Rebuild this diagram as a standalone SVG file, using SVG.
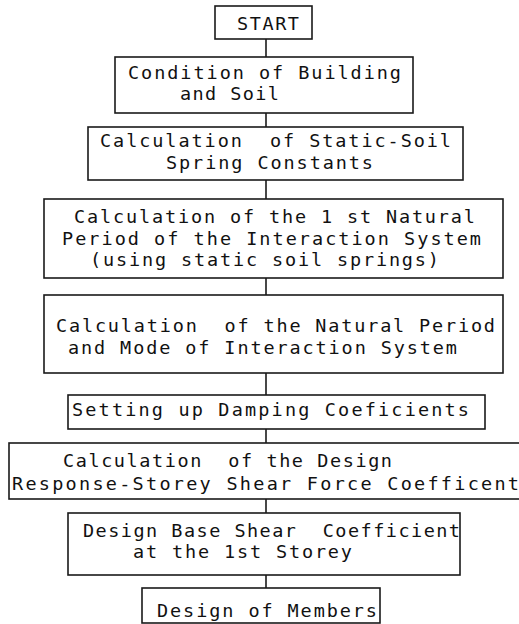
<svg xmlns="http://www.w3.org/2000/svg" width="519" height="624" viewBox="0 0 519 624">
<style>
.box{fill:#fff;stroke:#1a1a1a;stroke-width:1.6}
.t{font-family:"DejaVu Sans Mono","Liberation Mono",monospace;font-size:18.5px;fill:#111}
.c{stroke:#1a1a1a;stroke-width:1.6;fill:none}
</style>
<rect width="519" height="624" fill="#fff"/>
<g id="connectors">
<line class="c" x1="266" y1="39" x2="266" y2="57"/>
<line class="c" x1="266" y1="113" x2="266" y2="127"/>
<line class="c" x1="266" y1="180" x2="266" y2="199"/>
<line class="c" x1="266" y1="278" x2="266" y2="295"/>
<line class="c" x1="266" y1="373" x2="266" y2="395"/>
<line class="c" x1="266" y1="429" x2="266" y2="443"/>
<line class="c" x1="266" y1="499" x2="266" y2="513"/>
<line class="c" x1="266" y1="575" x2="266" y2="588"/>
</g>
<g id="start">
<rect class="box" x="215" y="6" width="97" height="33"/>
<text class="t" x="237" y="30" textLength="62" lengthAdjust="spacing">START</text>
</g>
<g id="condition">
<rect class="box" x="115" y="57" width="298" height="56"/>
<text class="t" x="128" y="79" textLength="273" lengthAdjust="spacing">Condition of Building</text>
<text class="t" x="180" y="100" textLength="99" lengthAdjust="spacing">and Soil</text>
</g>
<g id="spring-constants">
<rect class="box" x="88" y="127" width="375" height="53"/>
<text class="t" x="100" y="147" textLength="351" lengthAdjust="spacing" xml:space="preserve">Calculation  of Static-Soil</text>
<text class="t" x="166" y="169" textLength="207" lengthAdjust="spacing">Spring Constants</text>
</g>
<g id="first-period">
<rect class="box" x="44" y="199" width="459" height="79"/>
<text class="t" x="74" y="223" textLength="401" lengthAdjust="spacing">Calculation of the 1 st Natural</text>
<text class="t" x="62" y="245" textLength="419" lengthAdjust="spacing">Period of the Interaction System</text>
<text class="t" x="90" y="266" textLength="349" lengthAdjust="spacing">(using static soil springs)</text>
</g>
<g id="natural-period">
<rect class="box" x="44" y="295" width="459" height="78"/>
<text class="t" x="56" y="332" textLength="439" lengthAdjust="spacing" xml:space="preserve">Calculation  of the Natural Period</text>
<text class="t" x="68" y="354" textLength="389" lengthAdjust="spacing">and Mode of Interaction System</text>
</g>
<g id="damping">
<rect class="box" x="68" y="395" width="417" height="34"/>
<text class="t" x="72" y="416" textLength="397" lengthAdjust="spacing">Setting up Damping Coeficients</text>
</g>
<g id="response">
<rect class="box" x="9" y="443" width="520" height="56"/>
<text class="t" x="63" y="467" textLength="329" lengthAdjust="spacing" xml:space="preserve">Calculation  of the Design</text>
<text class="t" x="12" y="490" textLength="507" lengthAdjust="spacing">Response-Storey Shear Force Coefficent</text>
</g>
<g id="base-shear">
<rect class="box" x="68" y="513" width="392" height="62"/>
<text class="t" x="83" y="537" textLength="377" lengthAdjust="spacing" xml:space="preserve">Design Base Shear  Coefficient</text>
<text class="t" x="133" y="558" textLength="219" lengthAdjust="spacing">at the 1st Storey</text>
</g>
<g id="members">
<rect class="box" x="142" y="588" width="238" height="35"/>
<text class="t" x="157" y="617" textLength="220" lengthAdjust="spacing">Design of Members</text>
</g>
</svg>
